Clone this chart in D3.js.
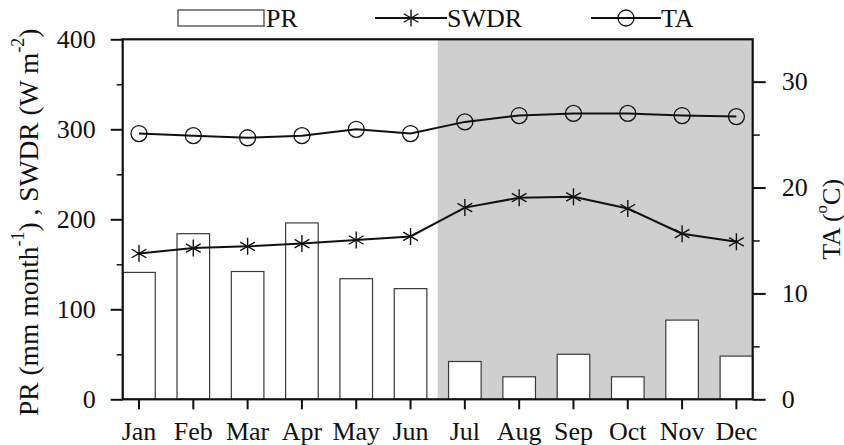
<!DOCTYPE html>
<html>
<head>
<meta charset="utf-8">
<script src="https://cdn.jsdelivr.net/npm/d3@7"></script>
<style>
  html, body { margin: 0; padding: 0; background: #fff; }
  svg { display: block; font-family: "Liberation Serif", "Times New Roman", serif; }
</style>
</head>
<body>
<svg id="chart" width="844" height="445"></svg>
<script>
// Monthly climate: precipitation (bars), shortwave radiation and air temperature (lines)
const months = ["Jan", "Feb", "Mar", "Apr", "May", "Jun", "Jul", "Aug", "Sep", "Oct", "Nov", "Dec"];
const prValues = [141, 184, 142, 196, 134, 123, 42, 25, 50, 25, 88, 48];
const swdrValues = [162, 168, 170, 173, 177, 181, 213, 224, 225, 212, 184, 175];
const taValues = [25.1, 24.9, 24.7, 24.9, 25.5, 25.1, 26.2, 26.8, 27.0, 27.0, 26.8, 26.7];
const leftTicks = [0, 100, 200, 300, 400];
const leftMinor = [50, 150, 250, 350];
const rightTicks = [0, 10, 20, 30];
const rightMinor = [5, 15, 25];
const shadedMonths = ["Jul", "Aug", "Sep", "Oct", "Nov", "Dec"];

const svg = d3.select("#chart");
const plot = { left: 122.7, right: 752.7, top: 39.3, bottom: 399.3 };
const FONT = 26;
const TITLE_FONT = 27.5;

const x = d3.scaleBand().domain(months).range([plot.left, plot.right])
  .paddingInner(0.4).paddingOuter(0);
const cx = m => x(m) + x.bandwidth() / 2;
const yLeft = d3.scaleLinear().domain([0, 400]).range([plot.bottom, plot.top]);
const yRight = d3.scaleLinear().domain([0, 34]).range([plot.bottom, plot.top]);

// shaded season: from halfway between Jun and Jul to the right edge
const firstShaded = months.indexOf(shadedMonths[0]);
const shadeX0 = (cx(months[firstShaded - 1]) + cx(months[firstShaded])) / 2;
svg.append("rect")
  .attr("x", shadeX0).attr("y", plot.top)
  .attr("width", plot.right - shadeX0).attr("height", plot.bottom - plot.top)
  .attr("fill", "#cfcfcf");

// PR bars
svg.append("g").selectAll("rect").data(months).join("rect")
  .attr("x", m => x(m)).attr("width", x.bandwidth())
  .attr("y", (m, i) => yLeft(prValues[i]))
  .attr("height", (m, i) => plot.bottom - yLeft(prValues[i]))
  .attr("fill", "#fff").attr("stroke", "#3a3a3a").attr("stroke-width", 1.2);

// marker shapes
const starPath = r => {
  const a = Math.PI / 6, dx = r * Math.cos(a), dy = r * Math.sin(a);
  return `M0,${-r}V${r}M${-dx},${-dy}L${dx},${dy}M${-dx},${dy}L${dx},${-dy}`;
};

// SWDR line
const swdrLine = d3.line().x((d, i) => cx(months[i])).y(d => yLeft(d));
svg.append("path").datum(swdrValues).attr("d", swdrLine)
  .attr("fill", "none").attr("stroke", "#111").attr("stroke-width", 2);
svg.append("g").selectAll("path").data(swdrValues).join("path")
  .attr("transform", (d, i) => `translate(${cx(months[i])},${yLeft(d)})`)
  .attr("d", starPath(8.5))
  .attr("fill", "none").attr("stroke", "#111").attr("stroke-width", 1.4);

// TA line
const taLine = d3.line().x((d, i) => cx(months[i])).y(d => yRight(d));
svg.append("path").datum(taValues).attr("d", taLine)
  .attr("fill", "none").attr("stroke", "#111").attr("stroke-width", 2);
svg.append("g").selectAll("circle").data(taValues).join("circle")
  .attr("cx", (d, i) => cx(months[i])).attr("cy", d => yRight(d))
  .attr("r", 8).attr("fill", "none").attr("stroke", "#111").attr("stroke-width", 1.3);

// axes
function styleAxis(g, width) {
  g.select(".domain").remove();
  g.selectAll(".tick line").attr("stroke", "#111").attr("stroke-width", width);
  g.selectAll(".tick text").attr("font-size", FONT).attr("font-family", "Liberation Serif, serif").attr("fill", "#111");
}
svg.append("g").attr("transform", `translate(${plot.left},0)`)
  .call(d3.axisLeft(yLeft).tickValues(leftTicks).tickSize(12).tickPadding(15))
  .call(g => styleAxis(g, 2));
svg.append("g").attr("transform", `translate(${plot.left},0)`)
  .call(d3.axisLeft(yLeft).tickValues(leftMinor).tickSize(6).tickFormat(""))
  .call(g => styleAxis(g, 1.5));
svg.append("g").attr("transform", `translate(${plot.right},0)`)
  .call(d3.axisRight(yRight).tickValues(rightTicks).tickSize(13).tickPadding(16))
  .call(g => styleAxis(g, 2));
svg.append("g").attr("transform", `translate(${plot.right},0)`)
  .call(d3.axisRight(yRight).tickValues(rightMinor).tickSize(7).tickFormat(""))
  .call(g => styleAxis(g, 1.5));
svg.append("g").attr("transform", `translate(0,${plot.bottom})`)
  .call(d3.axisBottom(x).tickSize(10).tickPadding(12))
  .call(g => styleAxis(g, 2));

// frame
svg.append("rect")
  .attr("x", plot.left).attr("y", plot.top)
  .attr("width", plot.right - plot.left).attr("height", plot.bottom - plot.top)
  .attr("fill", "none").attr("stroke", "#111").attr("stroke-width", 2.2);

// axis titles
const leftTitle = svg.append("text")
  .attr("transform", `translate(28,${(plot.top + plot.bottom) / 2 + 3}) rotate(-90)`)
  .attr("text-anchor", "middle").attr("dominant-baseline", "central")
  .attr("font-size", TITLE_FONT).attr("fill", "#111");
leftTitle.append("tspan").text("PR (mm month");
leftTitle.append("tspan").attr("font-size", TITLE_FONT * 0.65).attr("baseline-shift", "super").text("-1");
leftTitle.append("tspan").text(") , SWDR (W m");
leftTitle.append("tspan").attr("font-size", TITLE_FONT * 0.65).attr("baseline-shift", "super").text("-2");
leftTitle.append("tspan").text(")");

const rightTitle = svg.append("text")
  .attr("transform", `translate(831,${(plot.top + plot.bottom) / 2}) rotate(-90)`)
  .attr("text-anchor", "middle").attr("dominant-baseline", "central")
  .attr("font-size", FONT).attr("fill", "#111");
rightTitle.append("tspan").text("TA (");
rightTitle.append("tspan").attr("font-size", FONT * 0.65).attr("baseline-shift", "super").text("o");
rightTitle.append("tspan").text("C)");

// legend
const legY = 18;
const legend = svg.append("g");
legend.append("rect").attr("x", 178).attr("y", legY - 8).attr("width", 86).attr("height", 16)
  .attr("fill", "#fff").attr("stroke", "#3a3a3a").attr("stroke-width", 1.2);
legend.append("text").attr("x", 266).attr("y", legY).attr("dominant-baseline", "central")
  .attr("font-size", FONT).attr("fill", "#111").text("PR");

legend.append("line").attr("x1", 375).attr("x2", 447).attr("y1", legY).attr("y2", legY)
  .attr("stroke", "#111").attr("stroke-width", 2);
legend.append("path").attr("transform", `translate(411,${legY})`).attr("d", starPath(8.5))
  .attr("fill", "none").attr("stroke", "#111").attr("stroke-width", 1.4);
legend.append("text").attr("x", 447).attr("y", legY).attr("dominant-baseline", "central")
  .attr("font-size", FONT).attr("fill", "#111").text("SWDR");

legend.append("line").attr("x1", 591).attr("x2", 661).attr("y1", legY).attr("y2", legY)
  .attr("stroke", "#111").attr("stroke-width", 2);
legend.append("circle").attr("cx", 626).attr("cy", legY).attr("r", 8)
  .attr("fill", "none").attr("stroke", "#111").attr("stroke-width", 1.3);
legend.append("text").attr("x", 661).attr("y", legY).attr("dominant-baseline", "central")
  .attr("font-size", FONT).attr("fill", "#111").text("TA");
</script>
</body>
</html>
